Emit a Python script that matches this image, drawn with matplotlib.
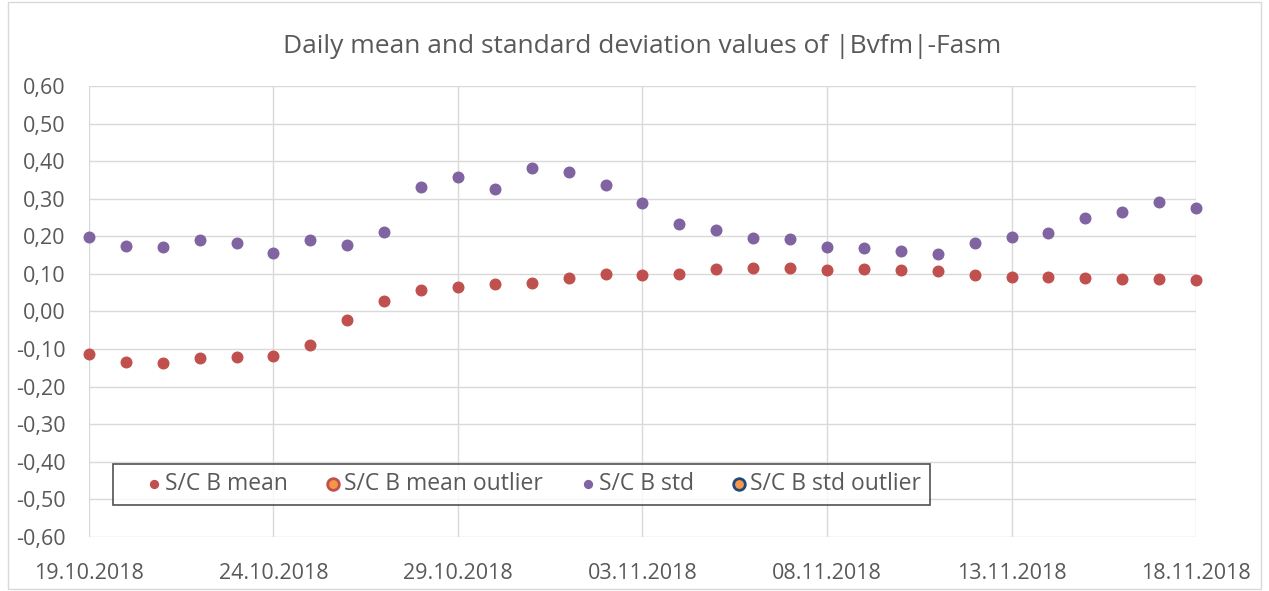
import datetime as dt
import matplotlib
matplotlib.use('Agg')
import matplotlib.pyplot as plt
import matplotlib.dates as mdates
from matplotlib.ticker import FuncFormatter, MultipleLocator
from matplotlib.patches import Rectangle

plt.rcParams['font.family'] = ['Open Sans', 'DejaVu Sans']

# daily values, 19.10.2018 .. 18.11.2018
start = dt.date(2018, 10, 19)
days = [start + dt.timedelta(days=i) for i in range(31)]

mean_vals = [-0.113, -0.134, -0.137, -0.125, -0.122, -0.119, -0.089, -0.022,
             0.028, 0.058, 0.064, 0.073, 0.077, 0.088, 0.101, 0.097,
             0.101, 0.112, 0.116, 0.116, 0.110, 0.112, 0.110, 0.108,
             0.097, 0.092, 0.091, 0.088, 0.086, 0.086, 0.084]
std_vals = [0.198, 0.174, 0.172, 0.189, 0.183, 0.155, 0.191, 0.176,
            0.211, 0.332, 0.358, 0.326, 0.381, 0.371, 0.336, 0.289,
            0.233, 0.216, 0.196, 0.192, 0.172, 0.170, 0.162, 0.153,
            0.181, 0.198, 0.209, 0.248, 0.265, 0.291, 0.275]
# outlier series are empty in this period
mean_out_days, mean_out_vals = [], []
std_out_days, std_out_vals = [], []

red = '#C0504D'
purple = '#8064A2'
orange = '#F79646'
navy = '#1F497D'
txt = '#595959'
grid = '#D9D9D9'

fig = plt.figure(figsize=(12.69, 5.91), dpi=100)
ax = fig.add_axes([0.0701, 0.0914, 0.8724, 0.7631])

ax.scatter(days, mean_vals, s=58, color=red, label='S/C B mean', zorder=3, clip_on=False)
ax.scatter(mean_out_days, mean_out_vals, s=58, color=orange, edgecolors=red,
           linewidths=2, label='S/C B mean outlier', zorder=3)
ax.scatter(days, std_vals, s=58, color=purple, label='S/C B std', zorder=3, clip_on=False)
ax.scatter(std_out_days, std_out_vals, s=58, color=orange, edgecolors=navy,
           linewidths=2, label='S/C B std outlier', zorder=3)

ax.set_xlim(mdates.date2num(days[0]), mdates.date2num(days[-1]))
ax.set_ylim(-0.6, 0.6)
ax.yaxis.set_major_locator(MultipleLocator(0.1))
ax.yaxis.set_major_formatter(FuncFormatter(lambda v, p: f'{v:.2f}'.replace('.', ',').replace('-0,00', '0,00')))
ax.set_xticks([mdates.date2num(days[i]) for i in range(0, 31, 5)])
ax.xaxis.set_major_formatter(mdates.DateFormatter('%d.%m.%Y'))

ax.grid(True, color=grid, linewidth=1)
ax.set_axisbelow(True)
for s in ax.spines.values():
    s.set_visible(False)
ax.tick_params(axis='both', length=0, labelsize=15.5, colors=txt)
ax.tick_params(axis='y', pad=17)
ax.tick_params(axis='x', pad=19)

ax.set_title('Daily mean and standard deviation values of |Bvfm|-Fasm',
             fontsize=19, color=txt, pad=24)

leg = ax.legend(loc='lower left', bbox_to_anchor=(0.0217, 0.071), borderaxespad=0,
                ncol=4, fontsize=16.5, frameon=True, fancybox=False,
                handlelength=2.8, handletextpad=-0.9, columnspacing=0.55,
                borderpad=0.38)
for t in leg.get_texts():
    t.set_color(txt)
hs = leg.legend_handles
hs[0].set_sizes([32])
hs[2].set_sizes([32])
hs[1].set_sizes([70])
hs[3].set_sizes([70])
leg.get_frame().set_edgecolor('#262626')
leg.get_frame().set_linewidth(1.2)

fig.patches.append(Rectangle((0.006, 0.004), 0.988, 0.992, transform=fig.transFigure,
                             fill=False, edgecolor=grid, linewidth=1))

fig.savefig('out.png', dpi=100)
